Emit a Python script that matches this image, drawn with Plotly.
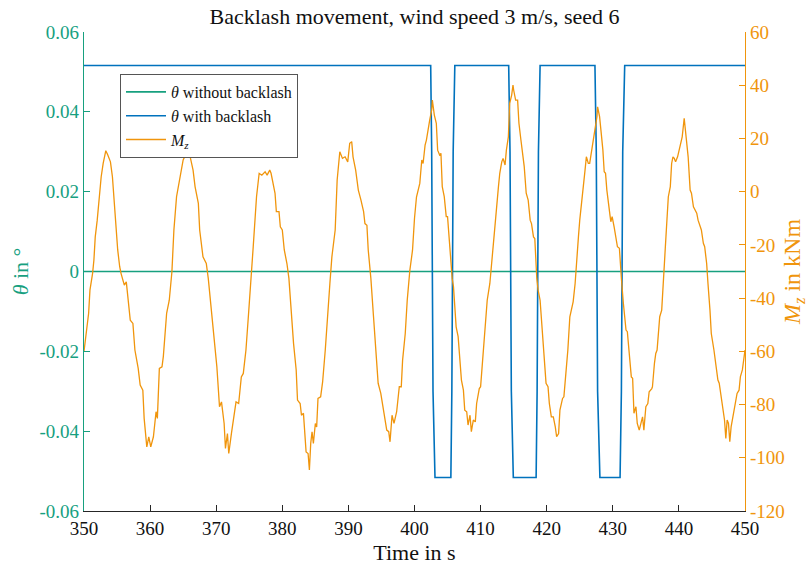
import plotly.graph_objects as go

# ---------------- data ----------------
time_mz = [350.0, 350.2, 350.4, 350.7, 350.9, 351.3, 351.5, 351.7, 352.0, 352.3, 352.6, 352.9, 353.3, 353.6,
           354.0, 354.3, 354.6, 354.8, 355.1, 355.4, 355.6, 356.1, 356.4, 357.0, 357.4, 357.7, 358.2, 358.5,
           358.9, 359.1, 359.5, 359.8, 360.1, 360.5, 360.9, 361.1, 361.4, 361.8, 362.0, 362.5, 362.9, 363.3,
           363.45, 363.6, 364.0, 364.5, 365.0, 365.6, 366.0, 366.5, 366.8, 367.3, 367.5, 368.0, 368.5, 368.8,
           369.1, 369.6, 370.1, 370.5, 370.8, 371.2, 371.4, 371.7, 371.9, 372.3, 372.7, 373.0, 373.4, 373.8,
           374.1, 374.5, 374.9, 375.1, 375.3, 375.6, 376.1, 376.5, 376.9, 377.4, 377.7, 378.1, 378.3, 378.6,
           378.9, 379.1, 379.5, 379.7, 380.0, 380.3, 380.7, 381.0, 381.4, 381.7, 382.1, 382.3, 382.7, 382.9,
           383.2, 383.4, 383.6, 383.9, 384.1, 384.3, 384.5, 384.7, 385.0, 385.2, 385.4, 385.8, 386.1, 386.5,
           386.8, 387.2, 387.5, 388.0, 388.3, 388.7, 389.1, 389.5, 389.9, 390.2, 390.5, 390.7, 391.1, 391.5,
           391.9, 392.3, 392.5, 392.8, 393.0, 393.4, 393.8, 394.2, 394.5, 394.9, 395.2, 395.5, 395.8, 396.1,
           396.3, 396.6, 396.9, 397.3, 397.7, 398.0, 398.2, 398.6, 398.9, 399.3, 399.7, 400.0, 400.3, 400.8,
           401.1, 401.3, 401.6, 401.8, 402.1, 402.3, 402.6, 402.7, 403.0, 403.3, 403.5, 403.8, 404.0, 404.2,
           404.5, 404.8, 405.0, 405.3, 405.5, 405.7, 405.9, 406.3, 406.6, 406.9, 407.1, 407.4, 407.6, 407.9,
           408.1, 408.4, 408.6, 408.9, 409.2, 409.4, 409.8, 410.0, 410.3, 410.5, 410.9, 411.0, 411.4, 411.6,
           411.9, 412.0, 412.3, 412.7, 412.9, 413.2, 413.4, 413.7, 413.9, 414.2, 414.4, 414.7, 414.9, 415.0,
           415.3, 415.6, 415.8, 416.1, 416.4, 416.6, 416.9, 417.2, 417.5, 417.7, 418.0, 418.2, 418.5, 418.7,
           419.0, 419.2, 419.6, 419.9, 420.2, 420.4, 420.7, 421.0, 421.3, 421.5, 421.8, 422.0, 422.4, 422.6,
           422.9, 423.2, 423.5, 423.8, 424.0, 424.3, 424.6, 424.8, 425.0, 425.3, 425.5, 425.8, 426.0, 426.3,
           426.5, 426.8, 427.1, 427.3, 427.6, 427.7, 428.0, 428.2, 428.5, 428.7, 428.9, 429.1, 429.3, 429.6,
           429.7, 429.9, 430.2, 430.4, 430.7, 431.0, 431.2, 431.3, 431.6, 432.0, 432.2, 432.5, 432.8, 433.0,
           433.2, 433.5, 433.7, 434.0, 434.2, 434.5, 434.7, 435.0, 435.3, 435.5, 435.9, 436.0, 436.3, 436.5,
           436.7, 436.9, 437.1, 437.4, 437.6, 437.9, 438.1, 438.4, 438.7, 438.9, 439.1, 439.3, 439.5, 439.8,
           440.1, 440.3, 440.5, 440.8, 441.0, 441.2, 441.4, 441.7, 441.9, 442.2, 442.4, 442.7, 442.9, 443.2,
           443.4, 443.7, 443.9, 444.2, 444.3, 444.4, 444.7, 444.9, 445.3, 445.6, 445.9, 446.1, 446.4, 446.6,
           446.9, 447.1, 447.3, 447.5, 447.7, 447.9, 448.1, 448.3, 448.6, 448.8, 449.1, 449.3, 449.6, 449.8,
           450.0]

mz_values = [-60.0, -56.0, -50.8, -45.7, -37.0, -30.7, -25.7, -17.0, -10.7, -1.9, 5.6, 10.6, 15.4, 13.8,
             11.2, 5.6, -4.4, -14.4, -21.9, -28.2, -30.7, -35.1, -33.9, -48.3, -49.5, -59.5, -66.4, -72.7,
             -74.6, -85.2, -95.9, -92.1, -95.9, -92.1, -82.7, -85.2, -66.4, -65.8, -62.0, -45.7, -40.8, -30.1,
             -22.0, -14.4, -1.9, 5.6, 11.9, 15.0, 13.8, 8.1, 1.9, -4.4, -14.4, -24.5, -27.0, -32.6,
             -40.8, -52.0, -65.8, -80.8, -79.0, -87.1, -96.5, -90.9, -98.4, -90.9, -84.6, -79.0, -79.6, -69.6,
             -68.3, -59.5, -45.7, -39.5, -32.6, -20.7, -1.9, 6.9, 6.2, 7.5, 6.2, 8.1, 6.9, 3.1,
             -0.6, -7.5, -7.5, -13.2, -14.4, -21.9, -27.0, -32.6, -47.0, -57.0, -67.0, -78.3, -79.6, -84.0,
             -83.3, -90.9, -97.8, -98.4, -104.6, -94.6, -90.2, -94.6, -87.1, -88.4, -77.7, -77.1, -71.5, -59.5,
             -47.0, -34.5, -24.5, -14.4, 4.4, 15.0, 12.5, 13.1, 11.2, 18.2, 18.8, 13.1, 8.1, 0.6,
             -3.2, -7.5, -12.0, -12.6, -21.9, -32.6, -47.0, -59.5, -72.0, -75.8, -80.8, -84.0, -89.6, -90.2,
             -94.0, -84.0, -87.1, -82.7, -73.3, -73.3, -63.3, -53.3, -40.8, -29.5, -22.0, -10.0, -2.0, 3.1,
             11.9, 10.6, 17.5, 19.4, 24.4, 26.9, 30.7, 34.4, 28.8, 25.7, 15.6, 13.8, 14.4, 1.9,
             -1.9, -9.4, -9.4, -20.7, -25.7, -32.6, -35.8, -50.8, -54.5, -63.3, -70.8, -74.6, -82.1, -82.7,
             -87.7, -84.0, -90.2, -85.8, -86.5, -79.6, -74.0, -73.3, -63.3, -59.5, -47.0, -40.8, -34.5, -28.2,
             -21.9, -17.0, -9.4, 1.9, 6.9, 11.2, 12.5, 10.0, 15.6, 20.6, 33.2, 36.3, 40.1, 38.2,
             34.4, 34.4, 25.7, 19.4, 12.5, 9.4, -0.6, -3.2, -10.7, -12.0, -17.0, -17.6, -32.6, -37.0,
             -40.8, -47.0, -59.5, -72.0, -73.3, -79.6, -84.6, -84.6, -88.4, -92.1, -90.9, -82.1, -77.7, -77.1,
             -68.3, -59.5, -47.0, -43.3, -41.4, -34.5, -25.7, -17.0, -10.7, -4.4, 0.6, 8.1, 13.1, 10.6,
             10.6, 15.6, 20.6, 24.4, 28.2, 31.9, 28.2, 23.2, 15.6, 7.5, 6.9, 0.6, -4.4, -9.4,
             -11.3, -9.4, -13.2, -15.7, -20.7, -21.3, -27.0, -32.6, -42.0, -52.0, -52.6, -60.8, -69.6, -70.1,
             -83.3, -80.8, -87.1, -89.6, -87.1, -84.6, -89.6, -80.8, -79.6, -75.2, -74.0, -73.3, -64.5, -60.8,
             -59.5, -52.0, -47.0, -44.5, -34.5, -20.0, -14.4, -1.9, 1.9, 10.6, 13.1, 12.5, 11.2, 13.1,
             16.3, 19.4, 20.6, 27.6, 23.2, 16.9, 13.1, 0.6, -0.6, -5.7, -6.9, -8.1, -10.7, -12.6,
             -14.4, -19.4, -20.7, -27.0, -32.6, -34.5, -44.5, -53.3, -59.5, -65.8, -70.8, -72.0, -77.1, -82.1,
             -85.8, -92.7, -85.8, -87.1, -94.0, -88.4, -85.8, -83.3, -79.6, -75.8, -74.6, -69.6, -67.0, -62.0,
             -59.5]

time_bl = [350.0, 402.45, 402.6, 402.8, 403.1, 405.5, 405.65, 405.85, 406.1,
           414.25, 414.45, 414.65, 414.95, 418.4, 418.55, 418.75, 419.0,
           427.3, 427.5, 427.7, 428.05, 431.1, 431.3, 431.5, 431.8, 450.0]
theta_bl = [0.0516, 0.0516, 0.03, -0.03, -0.0516, -0.0516, -0.03, 0.03, 0.0516,
            0.0516, 0.03, -0.03, -0.0516, -0.0516, -0.03, 0.03, 0.0516,
            0.0516, 0.03, -0.03, -0.0516, -0.0516, -0.03, 0.03, 0.0516, 0.0516]

time_nobl = [350.0, 450.0]
theta_nobl = [0.0, 0.0]

x_ticks = [350, 360, 370, 380, 390, 400, 410, 420, 430, 440, 450]
y1_ticks = [-0.06, -0.04, -0.02, 0, 0.02, 0.04, 0.06]
y1_labels = ["-0.06", "-0.04", "-0.02", "0", "0.02", "0.04", "0.06"]
y2_ticks = [-120, -100, -80, -60, -40, -20, 0, 20, 40, 60]
y2_labels = ["-120", "-100", "-80", "-60", "-40", "-20", "0", "20", "40", "60"]

# ---------------- style ----------------
TEAL = "#17A07F"
BLUE = "#0072BD"
ORANGE = "#F0950C"
DARK = "#262626"
FONT = "Liberation Serif"

fig = go.Figure()
fig.add_trace(go.Scatter(x=time_nobl, y=theta_nobl, mode="lines", name="<i>θ</i> without backlash",
                         line=dict(color=TEAL, width=1.6)))
fig.add_trace(go.Scatter(x=time_bl, y=theta_bl, mode="lines", name="<i>θ</i> with backlash",
                         line=dict(color=BLUE, width=1.6)))
fig.add_trace(go.Scatter(x=time_mz, y=mz_values, mode="lines", name="<i>M<sub>z</sub></i>",
                         line=dict(color=ORANGE, width=1.3), yaxis="y2"))

fig.update_layout(
    width=809, height=565,
    margin=dict(l=84, r=64, t=32, b=54, autoexpand=False),
    paper_bgcolor="white", plot_bgcolor="white",
    font=dict(family=FONT, size=18, color=DARK),
    title=dict(text="Backlash movement, wind speed 3 m/s, seed 6", x=0.5, xref="paper",
               y=1 - 16 / 565, yref="container", yanchor="middle",
               font=dict(family=FONT, size=22, color="#111111")),
    showlegend=True,
    legend=dict(x=(120 - 84) / 661, y=(511 - 74) / 479, xanchor="left", yanchor="top",
                bgcolor="white", bordercolor="#555555", borderwidth=1,
                font=dict(family=FONT, size=16, color="#111111"),
                tracegroupgap=0, itemwidth=40),
    xaxis=dict(range=[350, 450], tickvals=x_ticks, showline=True, linecolor=DARK, linewidth=1,
               ticks="inside", ticklen=6, tickcolor=DARK, showgrid=False, zeroline=False,
               automargin=False,
               title=dict(text="Time in s", font=dict(size=22, color="#111111"), standoff=6),
               tickfont=dict(size=19, color="#111111")),
    yaxis=dict(range=[-0.06, 0.06], tickvals=y1_ticks, ticktext=y1_labels, showline=True,
               linecolor=TEAL, linewidth=1.2, ticks="inside", ticklen=6, tickcolor=TEAL,
               showgrid=False, zeroline=False, tickfont=dict(size=19, color=TEAL), automargin=False,
               title=dict(text="<i>θ</i> in °", font=dict(size=22, color=TEAL), standoff=4)),
    yaxis2=dict(range=[-120, 60], tickvals=y2_ticks, ticktext=y2_labels, overlaying="y", side="right",
                showline=True, linecolor=ORANGE, linewidth=1.2, ticks="inside", ticklen=6,
                tickcolor=ORANGE, showgrid=False, zeroline=False, tickfont=dict(size=19, color=ORANGE),
                automargin=False,
                title=dict(text="<i>M<sub>z</sub></i> in kNm", font=dict(size=24, color=ORANGE), standoff=10)),
)

fig.write_html("out.html")
